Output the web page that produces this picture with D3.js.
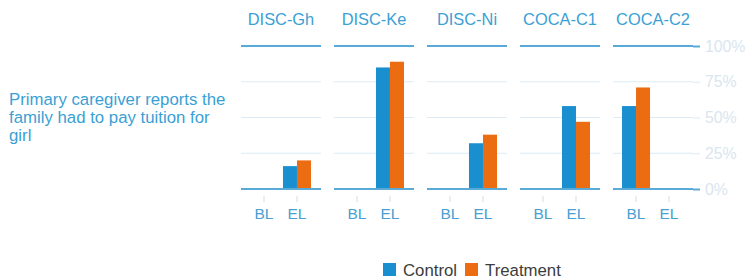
<!DOCTYPE html>
<html><head><meta charset="UTF-8">
<script src="https://cdn.jsdelivr.net/npm/d3@7"></script>
<style>
  body { margin: 0; background: #fff; font-family: "Liberation Sans", Arial, Helvetica, sans-serif; }
</style>
</head>
<body>
<svg id="chart"></svg>
<script>
  // data (percent)
  var panels = ["DISC-Gh", "DISC-Ke", "DISC-Ni", "COCA-C1", "COCA-C2"];
  var rounds = ["BL", "EL"];
  var series = ["Control", "Treatment"];
  var control   = [[null, 16], [null, 85], [null, 32], [null, 58], [58, null]];
  var treatment = [[null, 20], [null, 89], [null, 38], [null, 47], [71, null]];
  var yTicks = [0, 25, 50, 75, 100];
  var labelLines = ["Primary caregiver reports the", "family had to pay tuition for", "girl"];

  var width = 745, height = 280;
  var colors = { Control: "#1a8fd0", Treatment: "#ec6c12" };

  var svg = d3.select("#chart").attr("width", width).attr("height", height);

  var xPanel = d3.scaleBand().domain(panels).range([241, 693]).paddingInner(0.14);
  var pw = xPanel.bandwidth();
  var xRound = d3.scaleBand().domain(rounds).range([9, pw - 10]).paddingInner(0.15);
  var xSeries = d3.scaleBand().domain(series).range([0, xRound.bandwidth()]);
  var y = d3.scaleLinear().domain([0, 100]).range([189, 46]);

  // left label
  svg.append("g").selectAll("text").data(labelLines).enter().append("text")
    .attr("x", 9)
    .attr("y", function (d, i) { return 105 + i * 18; })
    .attr("fill", "#3a9fd5")
    .style("font-size", "16.8px")
    .text(function (d) { return d; });

  panels.forEach(function (p, i) {
    var g = svg.append("g").attr("transform", "translate(" + xPanel(p) + ",0)");

    g.append("text")
      .attr("x", pw / 2).attr("y", 25)
      .attr("text-anchor", "middle")
      .attr("fill", "#3a9fd5")
      .style("font-size", "16.4px")
      .text(p);

    // light gridlines
    g.selectAll("line.grid").data(yTicks.filter(function (t) { return t > 0 && t < 100; }))
      .enter().append("line")
      .attr("x1", 0).attr("x2", pw)
      .attr("y1", function (d) { return y(d); }).attr("y2", function (d) { return y(d); })
      .attr("stroke", "#dcebf5").attr("stroke-width", 1);

    var rows = rounds.map(function (r, j) {
      return [{ s: "Control", r: r, v: control[i][j] }, { s: "Treatment", r: r, v: treatment[i][j] }];
    });
    var bars = [].concat.apply([], rows).filter(function (d) { return d.v != null; });

    g.selectAll("rect").data(bars).enter().append("rect")
      .attr("x", function (d) { return xRound(d.r) + xSeries(d.s); })
      .attr("width", xSeries.bandwidth())
      .attr("y", function (d) { return y(d.v); })
      .attr("height", function (d) { return y(0) - y(d.v); })
      .attr("fill", function (d) { return colors[d.s]; });

    // top and base lines
    [0, 100].forEach(function (t) {
      g.append("line")
        .attr("x1", 0).attr("x2", pw)
        .attr("y1", y(t)).attr("y2", y(t))
        .attr("stroke", "#5aaad8").attr("stroke-width", 2);
    });

    // x axis
    var xa = g.append("g").attr("transform", "translate(0,196)");
    xa.selectAll("line").data(rounds).enter().append("line")
      .attr("x1", function (d) { return xRound(d) + xRound.bandwidth() / 2; })
      .attr("x2", function (d) { return xRound(d) + xRound.bandwidth() / 2; })
      .attr("y1", 0).attr("y2", 6)
      .attr("stroke", "#d0dfe9");
    xa.selectAll("text").data(rounds).enter().append("text")
      .attr("x", function (d) { return xRound(d) + xRound.bandwidth() / 2; })
      .attr("y", 23)
      .attr("text-anchor", "middle")
      .attr("fill", "#4a9fd3")
      .style("font-size", "15.5px")
      .text(function (d) { return d; });
  });

  // right y axis
  var yAxis = d3.axisRight(y).tickValues(yTicks).tickSize(7).tickPadding(5)
    .tickFormat(function (d) { return d + "%"; });
  var ya = svg.append("g").attr("transform", "translate(693,0)").call(yAxis);
  ya.select(".domain").remove();
  ya.selectAll(".tick line")
    .attr("stroke", function (d) { return (d === 0 || d === 100) ? "#5aaad8" : "#dcebf5"; })
    .attr("stroke-width", function (d) { return (d === 0 || d === 100) ? 2 : 1; });
  ya.selectAll(".tick text")
    .attr("fill", "#d9e6ef")
    .style("font-size", "15.8px")
    .style("font-family", "'Liberation Sans', Arial, sans-serif");

  // legend
  var legend = svg.append("g").attr("transform", "translate(383,263)");
  var lx = [0, 82];
  series.forEach(function (s, i) {
    var lg = legend.append("g").attr("transform", "translate(" + lx[i] + ",0)");
    lg.append("rect").attr("width", 13).attr("height", 13).attr("fill", colors[s]);
    lg.append("text").attr("x", 20).attr("y", 12.5)
      .attr("fill", "#3c3c3c").style("font-size", "16.8px").text(s);
  });
</script>
</body></html>
